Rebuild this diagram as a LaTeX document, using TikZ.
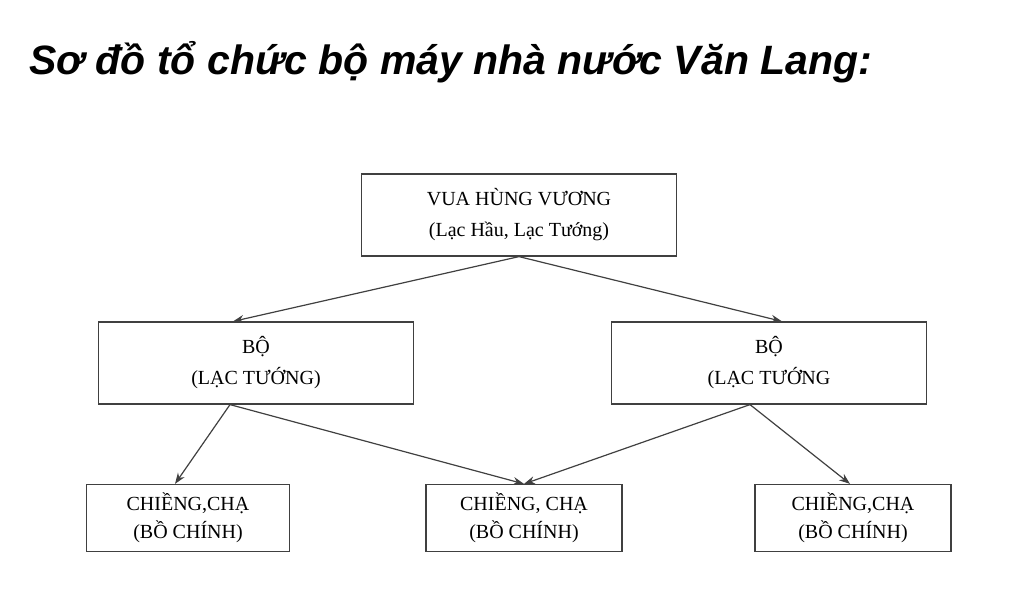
\documentclass[tikz,border=0pt]{standalone}
\usepackage{fontspec}
\setmainfont{Liberation Serif}
\newfontfamily\titlefont{Liberation Sans}
\usetikzlibrary{arrows.meta}

\tikzset{
  box/.style={draw=black!75, line width=1.2pt, minimum width=315pt, minimum height=82pt, align=center, font=\fontsize{20}{31}\selectfont, inner sep=0pt},
  smallbox/.style={box, minimum width=200pt, minimum height=67pt, font=\fontsize{20}{28}\selectfont},
  link/.style={draw=black!75, line width=1.2pt, -{Stealth[length=11pt,width=8pt]}}
}

\begin{document}
\begin{tikzpicture}[x=1pt,y=-1pt]
\useasboundingbox (0,0) rectangle (1024,608);
\node[anchor=west, font=\titlefont\bfseries\itshape\fontsize{41}{46}\selectfont] (title) at (26,62) {Sơ đồ tổ chức bộ máy nhà nước Văn Lang:};

% tiers
\node[box] (vua) at (519,215) {VUA HÙNG VƯƠNG\\(Lạc Hầu, Lạc Tướng)};
\node[box] (boL) at (256,363) {BỘ\\(LẠC TƯỚNG)};
\node[box] (boR) at (769,363) {BỘ\\(LẠC TƯỚNG};
\node[smallbox, minimum width=203pt] (chL) at (188,518) {CHIỀNG,CHẠ\\(BỒ CHÍNH)};
\node[smallbox, minimum width=196pt] (chM) at (524,518) {CHIỀNG, CHẠ\\(BỒ CHÍNH)};
\node[smallbox, minimum width=196pt] (chR) at (853,518) {CHIỀNG,CHẠ\\(BỒ CHÍNH)};

% connectors
\draw[link] (vua.south) -- ([xshift=-23pt]boL.north);
\draw[link] (vua.south) -- ([xshift=13pt]boR.north);
\draw[link] ([xshift=-26pt]boL.south) -- ([xshift=-13pt]chL.north);
\draw[link] ([xshift=-26pt]boL.south) -- (chM.north);
\draw[link] ([xshift=-19pt]boR.south) -- (chM.north);
\draw[link] ([xshift=-19pt]boR.south) -- ([xshift=-3pt]chR.north);
\end{tikzpicture}
\end{document}
